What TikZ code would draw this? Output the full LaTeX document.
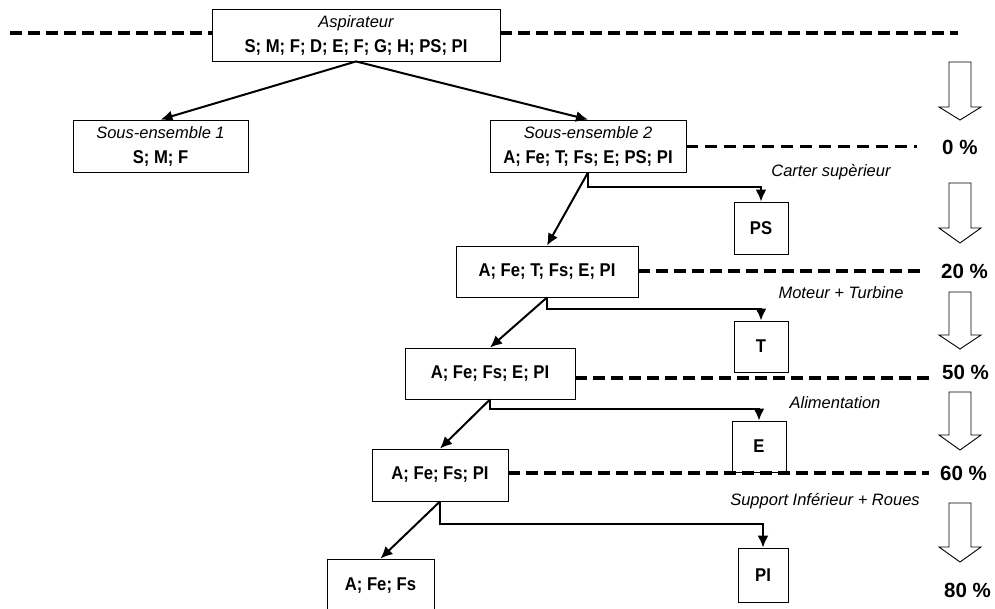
\documentclass[tikz,border=0pt]{standalone}
\usepackage{fontspec}
\setmainfont{Liberation Sans}
\newfontfamily\boxfont[FakeStretch=0.9]{Liberation Sans}
\usetikzlibrary{arrows.meta,calc}
\newcommand{\hollowdown}[4]{%
  \draw[hollow] ({#1-11},#2) -- ({#1+11},#2) -- ({#1+11},#3) -- ({#1+21},#3) -- (#1,#4) -- ({#1-21},#3) -- ({#1-11},#3) -- cycle;}
\newcommand{\boxhead}[1]{{\rmfamily\mdseries\itshape\fontsize{16.5}{25}\selectfont #1}}
\begin{document}
\begin{tikzpicture}[x=1pt,y=-1pt,
  box/.style={draw,line width=0.9pt,inner sep=0pt,align=center,font=\boxfont\fontsize{18.5}{25}\selectfont\bfseries},
  conn/.style={line width=2pt,-{Latex[length=12pt,width=11pt]}},
  thickdash/.style={line width=4pt,dash pattern=on 12pt off 6pt},
  thindash/.style={line width=3pt,dash pattern=on 12pt off 7pt},
  lbl/.style={font=\fontsize{16.5}{20}\selectfont\itshape,inner sep=0pt},
  pct/.style={font=\fontsize{20.5}{22}\selectfont\bfseries,anchor=west,inner sep=0pt},
  hollow/.style={draw,line width=0.9pt,fill=white}
]
\clip (0,0) rectangle (995,608);
\fill[white] (0,0) rectangle (995,608);

% boxes
\node[box,minimum width=288pt,minimum height=52pt] (asp) at (356,35) {\boxhead{Aspirateur}\\S; M; F; D; E; F; G; H; PS; PI};
\node[box,minimum width=175pt,minimum height=52pt] (se1) at (160.5,146) {\boxhead{Sous-ensemble 1}\\S; M; F};
\node[box,minimum width=196pt,minimum height=52pt] (se2) at (588,146) {\boxhead{Sous-ensemble 2}\\A; Fe; T; Fs; E; PS; PI};
\node[box,minimum width=182pt,minimum height=51pt] (b3) at (547,271.5) {A; Fe; T; Fs; E; PI};
\node[box,minimum width=170pt,minimum height=51pt] (b4) at (490,373.5) {A; Fe; Fs; E; PI};
\node[box,minimum width=136pt,minimum height=52pt] (b5) at (440,475) {A; Fe; Fs; PI};
\node[box,minimum width=107pt,minimum height=54pt] (b6) at (380.5,586) {A; Fe; Fs};
\node[box,minimum width=54pt,minimum height=52pt] (ps) at (761,228) {PS};
\node[box,minimum width=54pt,minimum height=51pt] (t) at (761,346.5) {T};
\node[box,minimum width=54pt,minimum height=51pt] (e) at (759,446.5) {E};
\node[box,minimum width=50pt,minimum height=54pt] (pi) at (763,575) {PI};

% italic labels
\node[lbl] (l1) at (831,172) {Carter supèrieur};
\node[lbl] (l2) at (841,293) {Moteur + Turbine};
\node[lbl] (l3) at (835,403) {Alimentation};
\node[lbl] (l4) at (825,501) {Support Inférieur + Roues};

% percentages
\node[pct] (p0) at (942,147) {0 \%};
\node[pct] (p20) at (941,271) {20 \%};
\node[pct] (p50) at (942,372) {50 \%};
\node[pct] (p60) at (940,473) {60 \%};
\node[pct] (p80) at (944,590) {80 \%};

% dashed level lines
\coordinate (d0l) at (10,33);
\coordinate (d0r) at (958,33);
\draw[thickdash] (d0l) -- (asp.west |- d0l);
\draw[thickdash] (asp.east |- d0r) -- (d0r);
\coordinate (d1) at (917,146);
\draw[thindash] (se2.east |- d1) -- (d1);
\coordinate (d2) at (923,271);
\draw[thickdash] (b3.east |- d2) -- (d2);
\coordinate (d3) at (929,378);
\draw[thickdash] (b4.east |- d3) -- (d3);
\coordinate (d4) at (929,473);
\draw[thickdash] (b5.east |- d4) -- (d4);

% connectors
\draw[conn] (asp.south) -- (se1.north);
\draw[conn] (asp.south) -- (se2.north);
\draw[conn] (se2.south) -- (b3.north);
\draw[conn] (se2.south) -- ++(0,15) -| (ps.north);
\draw[conn] (b3.south) -- (b4.north);
\draw[conn] (b3.south) -- ++(0,12) -| (t.north);
\draw[conn] (b4.south) -- (b5.north);
\draw[conn] (b4.south) -- ++(0,10) -| (e.north);
\draw[conn] (b5.south) -- (b6.north);
\draw[conn] (b5.south) -- ++(0,23) -| (pi.north);

% hollow down arrows
\hollowdown{960}{62}{107}{120}
\hollowdown{960}{183}{228}{243}
\hollowdown{960}{292}{335}{349}
\hollowdown{960}{392}{435}{450}
\hollowdown{960}{503}{547}{562}
\end{tikzpicture}
\end{document}
